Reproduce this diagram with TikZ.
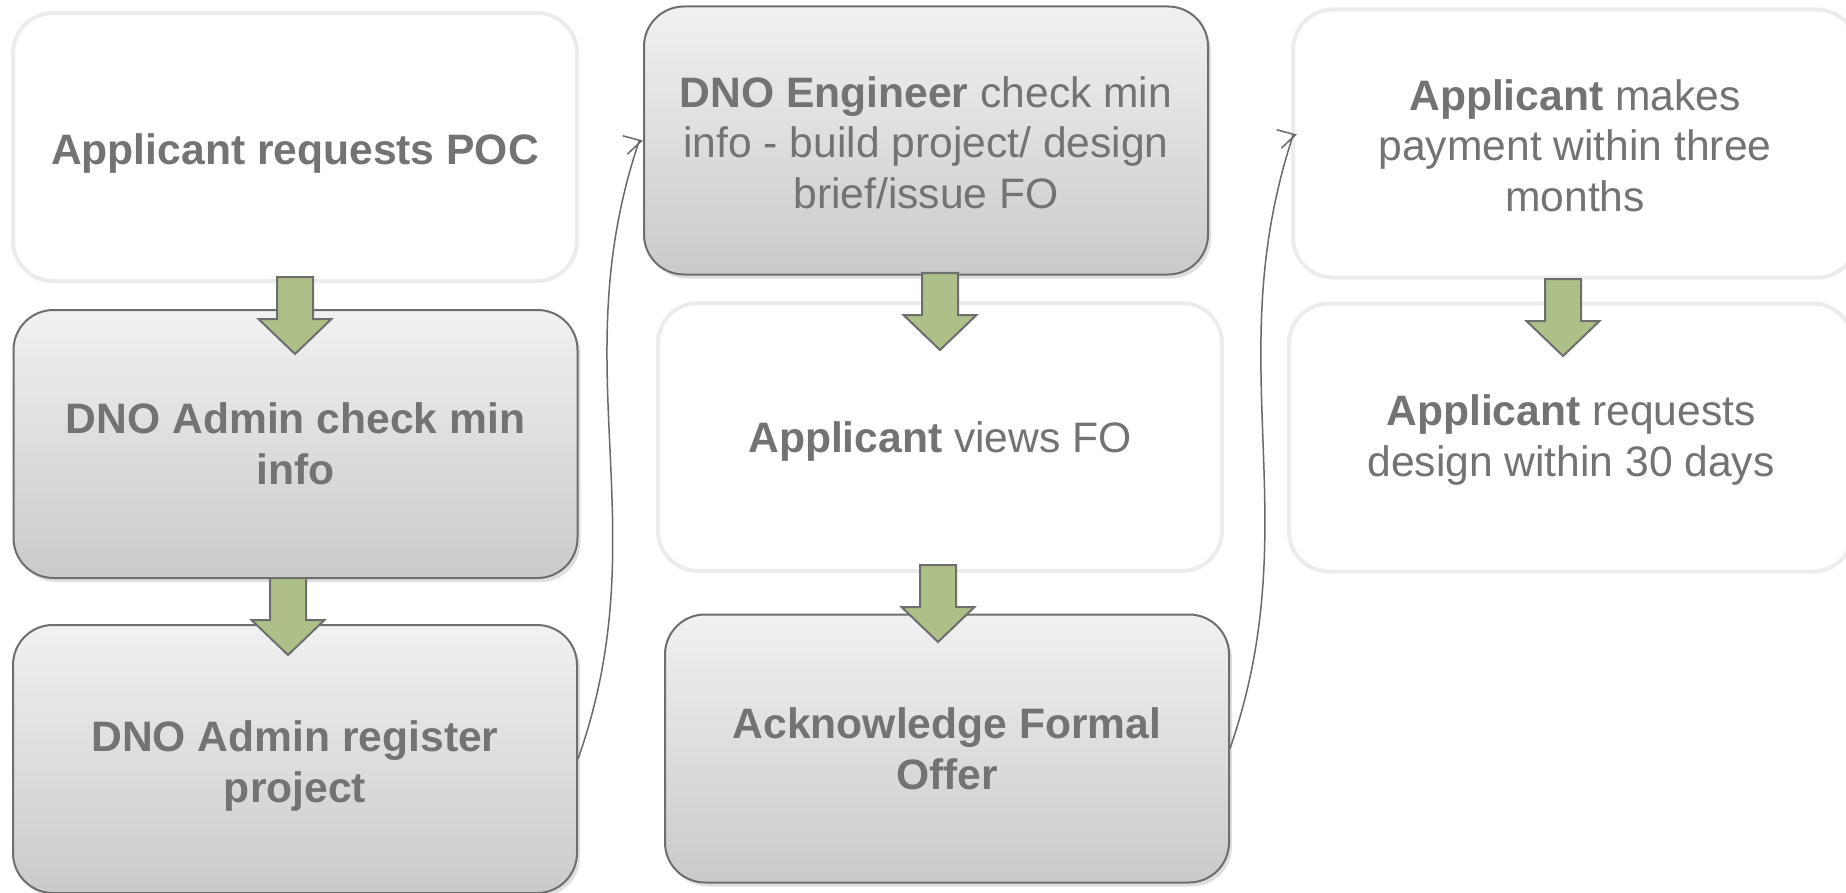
\documentclass[tikz,border=0pt]{standalone}
\usepackage{fontspec}
\setmainfont{Liberation Sans}
\usetikzlibrary{arrows.meta,shadows,calc}
\definecolor{txt}{RGB}{115,115,115}
\definecolor{wborder}{RGB}{236,236,236}
\definecolor{gborder}{RGB}{110,110,110}
\definecolor{gtop}{RGB}{241,241,241}
\definecolor{gbot}{RGB}{202,202,202}
\definecolor{agreen}{RGB}{173,192,135}
\definecolor{aborder}{RGB}{110,110,110}
\definecolor{connc}{RGB}{105,105,105}
\newcommand\greenarrow[2]{\draw[garrow] ({#1-18},{#2}) -- ({#1+18},{#2}) -- ({#1+18},{#2+42}) -- ({#1+36.5},{#2+42}) -- ({#1},{#2+77}) -- ({#1-36.5},{#2+42}) -- ({#1-18},{#2+42}) -- cycle;}
\newcommand\pushdown[1]{\rule{0pt}{#1}}
\begin{document}
\begin{tikzpicture}[x=0.5pt,y=-0.5pt,
 base/.style={rounded corners=20pt, minimum width=282pt, minimum height=134pt, align=center, text=txt, font=\fontsize{21.3}{25.3}\selectfont, inner sep=0pt},
 wbox/.style={base, draw=wborder, line width=2pt, fill=white},
 gbox/.style={base, draw=gborder, line width=1pt, top color=gtop, bottom color=gbot, drop shadow={shadow xshift=1.5pt, shadow yshift=-2pt, opacity=0.25}},
 garrow/.style={fill=agreen, draw=aborder, line width=1pt, line join=miter},
 connector/.style={draw=connc, line width=0.75pt, -{Straight Barb[length=8.5pt,width=9.5pt]}}
]
\useasboundingbox (0,0) rectangle (1846,893);

% column 1
\node[wbox] (A) at (295,147) {\pushdown{22.3pt}\textbf{Applicant requests POC}};
\node[gbox] (B) at (295.5,444) {\textbf{DNO Admin check min}\\\textbf{info}};
\node[gbox] (C) at (295,759) {\pushdown{22.3pt}\textbf{DNO Admin register}\\\textbf{project}};

% column 2
\node[gbox] (D) at (926,140.5) {\pushdown{17.5pt}\textbf{DNO Engineer} check min\\info - build project/ design\\brief/issue FO};
\node[wbox] (E) at (940,437) {\pushdown{20.3pt}\textbf{Applicant} views FO};
\node[gbox] (F) at (947,748.5) {\textbf{Acknowledge Formal}\\\textbf{Offer}};

% column 3
\node[wbox] (G) at (1575,143.5) {\pushdown{17.5pt}\textbf{Applicant} makes\\payment within three\\months};
\node[wbox] (H) at (1571,437.5) {\pushdown{18pt}\textbf{Applicant} requests\\design within 30 days};

% block arrows
\greenarrow{295}{277}
\greenarrow{288}{578}
\greenarrow{940}{273}
\greenarrow{938}{565}
\greenarrow{1563}{279}

% connectors
\coordinate (Din) at ($(D.west)+(-4,1)$);
\coordinate (Gpre) at ($(G.west)+(2,-8)$);
\coordinate (Gin) at ($(G.west)+(6,-9)$);
\draw[connector] (C.east) .. controls (659,530) and (562,369.5) .. (Din) -- (D.west);
\draw[connector] (F.east) .. controls (1309,520) and (1218,363) .. (Gpre) -- (Gin);
\end{tikzpicture}
\end{document}
